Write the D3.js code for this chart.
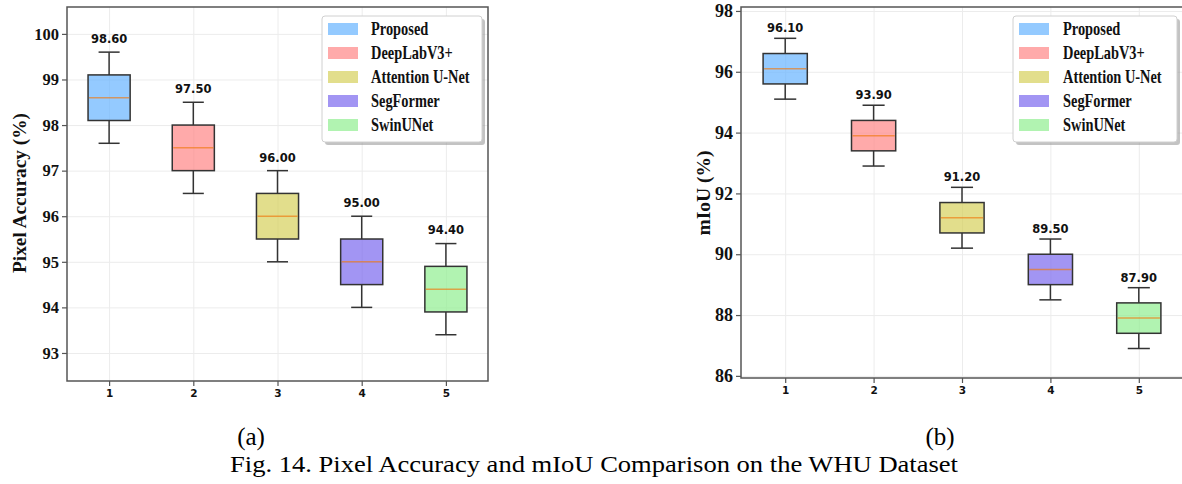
<!DOCTYPE html>
<html>
<head>
<meta charset="utf-8">
<script src="https://cdn.jsdelivr.net/npm/d3@7"></script>
<style>
  body { margin: 0; background: #fff; }
  svg { display: block; }
</style>
</head>
<body>
<div id="chart"></div>
<script>
const svgWidth = 1182;
const svgHeight = 484;

// models / positions
const models = ["Proposed", "DeepLabV3+", "Attention U-Net", "SegFormer", "SwinUNet"];
const positions = [1, 2, 3, 4, 5];
const boxColors = ["#66b3ff", "#ff8686", "#d6d05b", "#7b68ee", "#90ee90"];

// (a) pixel accuracy
const paMedian = [98.6, 97.5, 96.0, 95.0, 94.4];
const paQ1 = [98.1, 97.0, 95.5, 94.5, 93.9];
const paQ3 = [99.1, 98.0, 96.5, 95.5, 94.9];
const paLow = [97.6, 96.5, 95.0, 94.0, 93.4];
const paHigh = [99.6, 98.5, 97.0, 96.0, 95.4];
const paTicks = [93, 94, 95, 96, 97, 98, 99, 100];

// (b) mIoU
const miouMedian = [96.1, 93.9, 91.2, 89.5, 87.9];
const miouQ1 = [95.6, 93.4, 90.7, 89.0, 87.4];
const miouQ3 = [96.6, 94.4, 91.7, 90.0, 88.4];
const miouLow = [95.1, 92.9, 90.2, 88.5, 86.9];
const miouHigh = [97.1, 94.9, 92.2, 90.5, 88.9];
const miouTicks = [86, 88, 90, 92, 94, 96, 98];

const serif = "'Liberation Serif', 'Times New Roman', serif";
const sans = "'DejaVu Sans', sans-serif";

const svg = d3.select("#chart").append("svg")
    .attr("width", svgWidth)
    .attr("height", svgHeight);

svg.append("rect").attr("width", svgWidth).attr("height", svgHeight).attr("fill", "#fff");

function drawPanel(cfg) {
    const g = svg.append("g");
    const x = d3.scaleLinear().domain([0.5, 5.5]).range([cfg.left, cfg.right]);
    const y = d3.scaleLinear().domain(cfg.yDomain).range([cfg.bottom, cfg.top]);
    const unit = x(1) - x(0);

    // grid
    g.append("g")
        .attr("transform", `translate(0, ${cfg.bottom})`)
        .call(d3.axisBottom(x).tickValues(positions).tickSize(-(cfg.bottom - cfg.top)).tickFormat(""))
        .call(a => a.select(".domain").remove())
        .selectAll("line").attr("stroke", "#ececec").attr("stroke-width", 1);
    g.append("g")
        .attr("transform", `translate(${cfg.left}, 0)`)
        .call(d3.axisLeft(y).tickValues(cfg.ticks).tickSize(-(cfg.right - cfg.left)).tickFormat(""))
        .call(a => a.select(".domain").remove())
        .selectAll("line").attr("stroke", "#ececec").attr("stroke-width", 1);

    const data = positions.map((p, i) => ({
        pos: p, color: boxColors[i], med: cfg.med[i], q1: cfg.q1[i], q3: cfg.q3[i], lo: cfg.lo[i], hi: cfg.hi[i]
    }));

    const boxes = g.selectAll(".box").data(data).enter().append("g").attr("class", "box");

    // whiskers
    boxes.append("line")
        .attr("x1", d => x(d.pos)).attr("x2", d => x(d.pos))
        .attr("y1", d => y(d.q3)).attr("y2", d => y(d.hi))
        .attr("stroke", "#333").attr("stroke-width", 1.5);
    boxes.append("line")
        .attr("x1", d => x(d.pos)).attr("x2", d => x(d.pos))
        .attr("y1", d => y(d.q1)).attr("y2", d => y(d.lo))
        .attr("stroke", "#333").attr("stroke-width", 1.5);
    // caps
    boxes.append("line")
        .attr("x1", d => x(d.pos - 0.125)).attr("x2", d => x(d.pos + 0.125))
        .attr("y1", d => y(d.hi)).attr("y2", d => y(d.hi))
        .attr("stroke", "#333").attr("stroke-width", 1.5);
    boxes.append("line")
        .attr("x1", d => x(d.pos - 0.125)).attr("x2", d => x(d.pos + 0.125))
        .attr("y1", d => y(d.lo)).attr("y2", d => y(d.lo))
        .attr("stroke", "#333").attr("stroke-width", 1.5);

    // box
    boxes.append("rect")
        .attr("x", d => x(d.pos - 0.25))
        .attr("width", unit * 0.5)
        .attr("y", d => y(d.q3))
        .attr("height", d => y(d.q1) - y(d.q3))
        .attr("fill", d => d.color)
        .attr("fill-opacity", 0.7)
        .attr("stroke", "#333")
        .attr("stroke-width", 1.5);

    // median
    boxes.append("line")
        .attr("x1", d => x(d.pos - 0.25) + 1).attr("x2", d => x(d.pos + 0.25) - 1)
        .attr("y1", d => y(d.med)).attr("y2", d => y(d.med))
        .attr("stroke", "#f07a10").attr("stroke-opacity", 0.65).attr("stroke-width", 1.5);

    // value labels
    boxes.append("text")
        .attr("x", d => x(d.pos))
        .attr("y", d => y(d.hi + 0.2))
        .attr("text-anchor", "middle")
        .style("font-family", sans)
        .style("font-weight", "bold")
        .style("font-size", "11.5px")
        .attr("fill", "#111")
        .text(d => d.med.toFixed(2));

    // axes
    const yAxis = g.append("g")
        .attr("transform", `translate(${cfg.left}, 0)`)
        .call(d3.axisLeft(y).tickValues(cfg.ticks).tickSize(5).tickPadding(3).tickFormat(d3.format("d")));
    yAxis.select(".domain").remove();
    yAxis.selectAll("line").attr("stroke", "#555").attr("stroke-width", 1.2);
    yAxis.selectAll("text")
        .style("font-family", serif).style("font-weight", "bold")
        .style("font-size", cfg.tickFont).attr("fill", "#111");

    const xAxis = g.append("g")
        .attr("transform", `translate(0, ${cfg.bottom})`)
        .call(d3.axisBottom(x).tickValues(positions).tickSize(5).tickPadding(4).tickFormat(d3.format("d")));
    xAxis.select(".domain").remove();
    xAxis.selectAll("line").attr("stroke", "#555").attr("stroke-width", 1.2);
    xAxis.selectAll("text")
        .style("font-family", sans).style("font-weight", "bold")
        .style("font-size", "10.5px").attr("fill", "#111");

    // frame
    g.append("rect")
        .attr("x", cfg.left).attr("y", cfg.top)
        .attr("width", cfg.right - cfg.left).attr("height", cfg.bottom - cfg.top)
        .attr("fill", "none").attr("stroke", "#555").attr("stroke-width", 1.5);

    // y label
    g.append("text")
        .attr("transform", `translate(${cfg.labelX}, 193) rotate(-90)`)
        .attr("text-anchor", "middle")
        .attr("textLength", cfg.labelLen).attr("lengthAdjust", "spacingAndGlyphs")
        .style("font-family", serif).style("font-weight", "bold")
        .style("font-size", "19px").attr("fill", "#111")
        .text(cfg.yLabel);

    // legend
    const lg = g.append("g").attr("transform", `translate(${cfg.legX}, ${cfg.legY})`);
    lg.append("rect")
        .attr("x", 3).attr("y", 3).attr("width", cfg.legW).attr("height", 126)
        .attr("rx", 3).attr("fill", "#888").attr("fill-opacity", 0.5);
    lg.append("rect")
        .attr("width", cfg.legW).attr("height", 126)
        .attr("rx", 3).attr("fill", "#fff").attr("stroke", "#d0d0d0").attr("stroke-width", 1);
    const items = lg.selectAll(".item").data(models).enter().append("g")
        .attr("transform", (d, i) => `translate(0, ${13 + i * 24})`);
    items.append("rect")
        .attr("x", 6).attr("y", -6).attr("width", 30).attr("height", 12)
        .attr("fill", (d, i) => boxColors[i]).attr("fill-opacity", 0.7);
    items.append("text")
        .attr("transform", `translate(${cfg.legTextX}, 6) scale(0.8, 1)`)
        .style("font-family", serif).style("font-weight", "bold")
        .style("font-size", "18px").attr("fill", "#111")
        .text(d => d);
}

drawPanel({
    left: 67, right: 488, top: 7, bottom: 381,
    yDomain: [92.385, 100.59], ticks: paTicks, tickFont: "16.5px",
    med: paMedian, q1: paQ1, q3: paQ3, lo: paLow, hi: paHigh,
    yLabel: "Pixel Accuracy (%)", labelX: 26, labelLen: 160,
    legX: 322, legY: 16, legW: 160, legTextX: 49
});

drawPanel({
    left: 741, right: 1183, top: 7, bottom: 378,
    yDomain: [85.93, 98.13], ticks: miouTicks, tickFont: "18px",
    med: miouMedian, q1: miouQ1, q3: miouQ3, lo: miouLow, hi: miouHigh,
    yLabel: "mIoU (%)", labelX: 710, labelLen: 85,
    legX: 1013, legY: 16, legW: 164, legTextX: 50
});

// captions
svg.append("text")
    .attr("x", 251).attr("y", 445)
    .attr("text-anchor", "middle")
    .style("font-family", serif).style("font-size", "25px").attr("fill", "#000")
    .text("(a)");
svg.append("text")
    .attr("x", 940).attr("y", 445)
    .attr("text-anchor", "middle")
    .style("font-family", serif).style("font-size", "25px").attr("fill", "#000")
    .text("(b)");
svg.append("text")
    .attr("x", 230).attr("y", 472)
    .attr("textLength", 728).attr("lengthAdjust", "spacingAndGlyphs")
    .style("font-family", serif).style("font-size", "24px").attr("fill", "#000")
    .text("Fig. 14. Pixel Accuracy and mIoU Comparison on the WHU Dataset");
</script>
</body>
</html>
